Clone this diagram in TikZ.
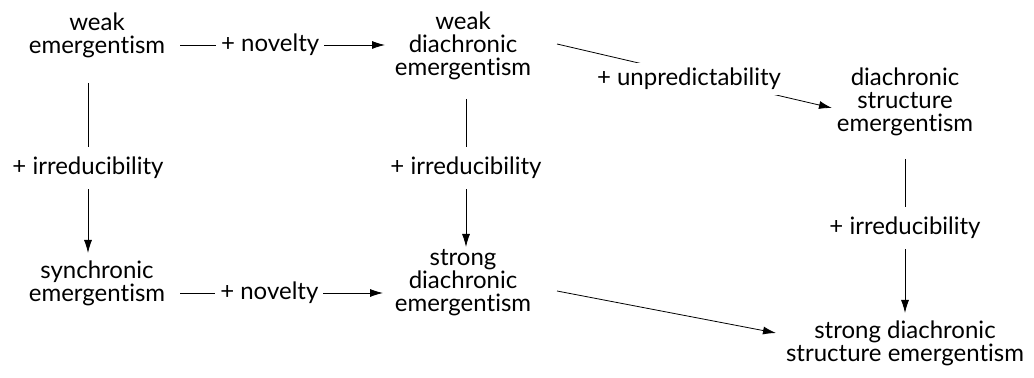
\documentclass[tikz,border=0pt]{standalone}
\usepackage{fontspec}
\setmainfont[Ligatures=NoCommon]{Lato}
\usetikzlibrary{arrows.meta}

\begin{document}
\begin{tikzpicture}[x=0.5pt, y=-0.5pt]
\tikzstyle{stage}=[align=center, inner sep=1pt, font=\fontsize{12}{11.5}\selectfont]
\tikzstyle{lbl}=[midway, inner xsep=2.5pt, inner ysep=5pt, fill=white, font=\fontsize{12}{11.5}\selectfont]
\tikzstyle{arr}=[-{Latex[length=6.5pt,width=4pt]}, thin]
\useasboundingbox (0,0) rectangle (1034,378);
\node[stage] (WE) at (97,35) {weak\\emergentism};
\node[stage] (WDE) at (463,46) {weak\\diachronic\\emergentism};
\node[stage] (DSE) at (905,102) {diachronic\\structure\\emergentism};
\node[stage] (SE) at (97,283) {synchronic\\emergentism};
\node[stage] (SDE) at (463,283) {strong\\diachronic\\emergentism};
\node[stage] (SDSE) at (905,343) {strong diachronic\\structure emergentism};
% horizontal
\coordinate (n1) at (180,45);
\coordinate (n2) at (385,45);
\coordinate (n3) at (180,293);
\coordinate (n4) at (383,293);
\draw[arr] (n1) -- node[lbl, pos=0.44]{+ novelty} (n2);
\draw[arr] (n3) -- node[lbl, pos=0.44]{+ novelty} (n4);
% vertical
\coordinate (i1) at (88,83);
\coordinate (i2) at (88,253);
\draw[arr] (i1) -- node[lbl, pos=0.5]{+ irreducibility} (i2);
\coordinate (i3) at (466,99);
\coordinate (i4) at (466,247);
\draw[arr] (i3) -- node[lbl, pos=0.466]{+ irreducibility} (i4);
\coordinate (i5) at (905,159);
\coordinate (i6) at (905,313);
\draw[arr] (i5) -- node[lbl, pos=0.448]{+ irreducibility} (i6);
% diagonal
\coordinate (u1) at (557,44);
\coordinate (u2) at (832,108);
\draw[arr] (u1) -- node[lbl, pos=0.48, inner ysep=2.5pt, yshift=-2pt]{+ unpredictability} (u2);
\coordinate (d1) at (557,291);
\coordinate (d2) at (776,333);
\draw[arr] (d1) -- (d2);
\end{tikzpicture}
\end{document}
